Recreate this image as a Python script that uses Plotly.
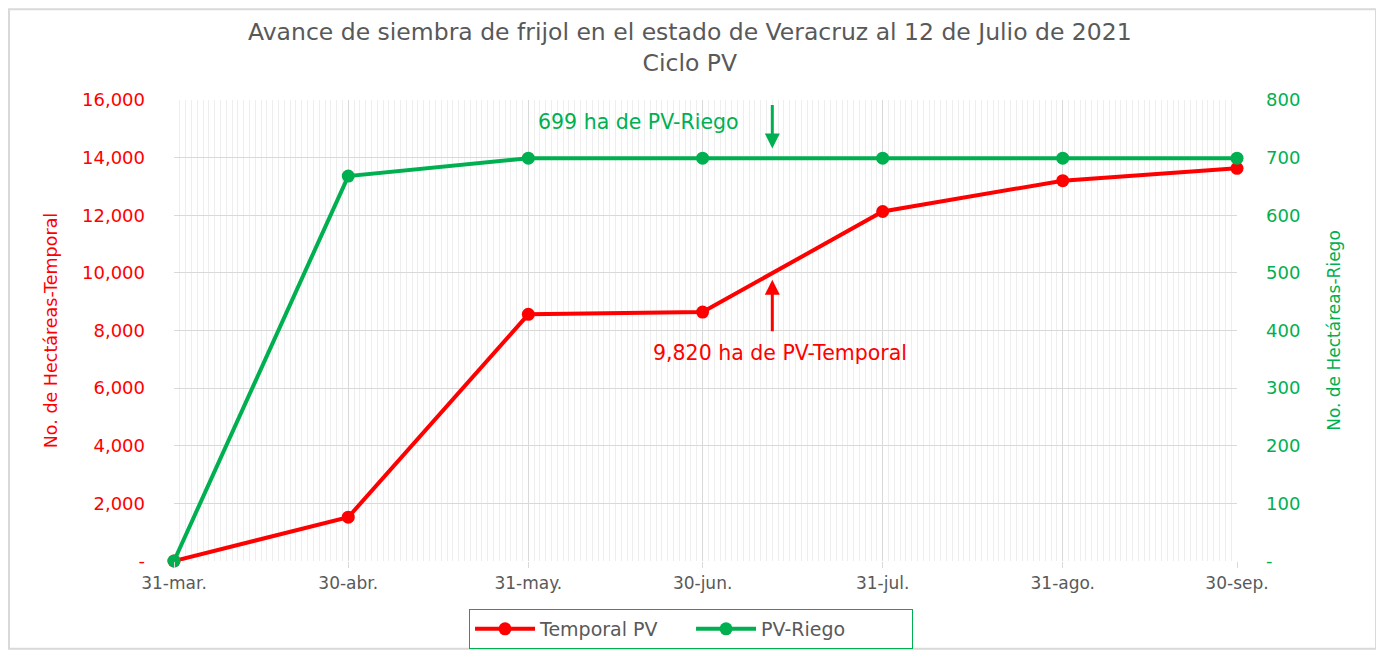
import plotly.graph_objects as go

dates = ['2021-03-31', '2021-04-30', '2021-05-31', '2021-06-30', '2021-07-31', '2021-08-31', '2021-09-30']
tick_labels = ['31-mar.', '30-abr.', '31-may.', '30-jun.', '31-jul.', '31-ago.', '30-sep.']
temporal = [0, 1520, 8560, 8640, 12130, 13200, 13630]
riego = [0, 668, 699, 699, 699, 699, 699]
left_ticks = [0, 2000, 4000, 6000, 8000, 10000, 12000, 14000, 16000]
left_labels = ['-', '2,000', '4,000', '6,000', '8,000', '10,000', '12,000', '14,000', '16,000']
right_ticks = [0, 100, 200, 300, 400, 500, 600, 700, 800]
right_labels = ['-', '100', '200', '300', '400', '500', '600', '700', '800']

RED = '#FF0000'
GREEN = '#00B050'
GRAY = '#595959'
FONT = 'DejaVu Sans'

fig = go.Figure()
fig.add_trace(go.Scatter(x=dates, y=temporal, name='Temporal PV', mode='lines+markers',
                         line=dict(color=RED, width=4), marker=dict(size=13, color=RED),
                         cliponaxis=False))
fig.add_trace(go.Scatter(x=dates, y=riego, name='PV-Riego', mode='lines+markers', yaxis='y2',
                         line=dict(color=GREEN, width=4), marker=dict(size=13, color=GREEN),
                         cliponaxis=False))

fig.update_layout(
    width=1384, height=652,
    margin=dict(l=166, r=155, t=92, b=98),
    paper_bgcolor='white', plot_bgcolor='white',
    font=dict(family=FONT, color=GRAY, size=16),
    xaxis=dict(type='date', range=['2021-03-31', '2021-09-30'],
               tickvals=dates, ticktext=tick_labels,
               tickfont=dict(size=17, color=GRAY), ticklabelstandoff=1,
               showgrid=True, gridcolor='#d9d9d9', gridwidth=1,
               ticks='outside', ticklen=6, tickcolor='#d9d9d9',
               showline=False, zeroline=False,
               minor=dict(dtick=86400000, tick0='2021-03-31', showgrid=True,
                          gridcolor='#eeeeee', gridwidth=1, ticks='')),
    yaxis=dict(range=[0, 16000], tickvals=left_ticks, ticktext=left_labels,
               tickfont=dict(size=18, color=RED), ticks='', ticklabelstandoff=28,
               showgrid=True, gridcolor='#d9d9d9', gridwidth=1, zeroline=False,
               title=dict(text='No. de Hectáreas-Temporal', font=dict(size=17.5, color=RED), standoff=19)),
    yaxis2=dict(range=[0, 800], overlaying='y', side='right',
                tickvals=right_ticks, ticktext=right_labels,
                tickfont=dict(size=18, color=GREEN), ticks='', ticklabelstandoff=28,
                showgrid=False, zeroline=False,
                title=dict(text='No. de Hectáreas-Riego', font=dict(size=17, color=GREEN), standoff=28)),
    legend=dict(orientation='h', x=0.4864, xanchor='center', y=-0.1017, yanchor='top',
                bordercolor=GREEN, borderwidth=1, font=dict(size=19, color=GRAY),
                itemwidth=60, entrywidth=146, entrywidthmode='pixels', tracegroupgap=0),
    showlegend=True,
)

fig.add_annotation(text='Avance de siembra de frijol en el estado de Veracruz al 12 de Julio de 2021<br>Ciclo PV',
                   xref='paper', yref='paper', x=0.4854, y=1.1147, xanchor='center', yanchor='middle',
                   showarrow=False, font=dict(size=23.5, color=GRAY))

fig.add_annotation(x='2021-07-12', y=716, xref='x', yref='y2', text='',
                   showarrow=True, arrowhead=2, arrowsize=1, arrowwidth=3, arrowcolor=GREEN,
                   ax=0, ay=-45)
fig.add_annotation(x='2021-06-19', y=762, xref='x', yref='y2', text='699 ha de PV-Riego',
                   showarrow=False, font=dict(size=20.5, color=GREEN))
fig.add_annotation(x='2021-07-12', y=9760, xref='x', yref='y', text='',
                   showarrow=True, arrowhead=2, arrowsize=1, arrowwidth=3, arrowcolor=RED,
                   ax=0, ay=53)
fig.add_annotation(x='2021-07-13T08:00', y=7203, xref='x', yref='y', text='9,820 ha de PV-Temporal',
                   showarrow=False, font=dict(size=20.5, color=RED))

fig.add_shape(type='rect', xref='paper', yref='paper', x0=-0.1552, x1=1.1308, y0=-0.1905, y1=1.197,
              line=dict(color='#d9d9d9', width=2), layer='below')

fig.write_html('out.html')
